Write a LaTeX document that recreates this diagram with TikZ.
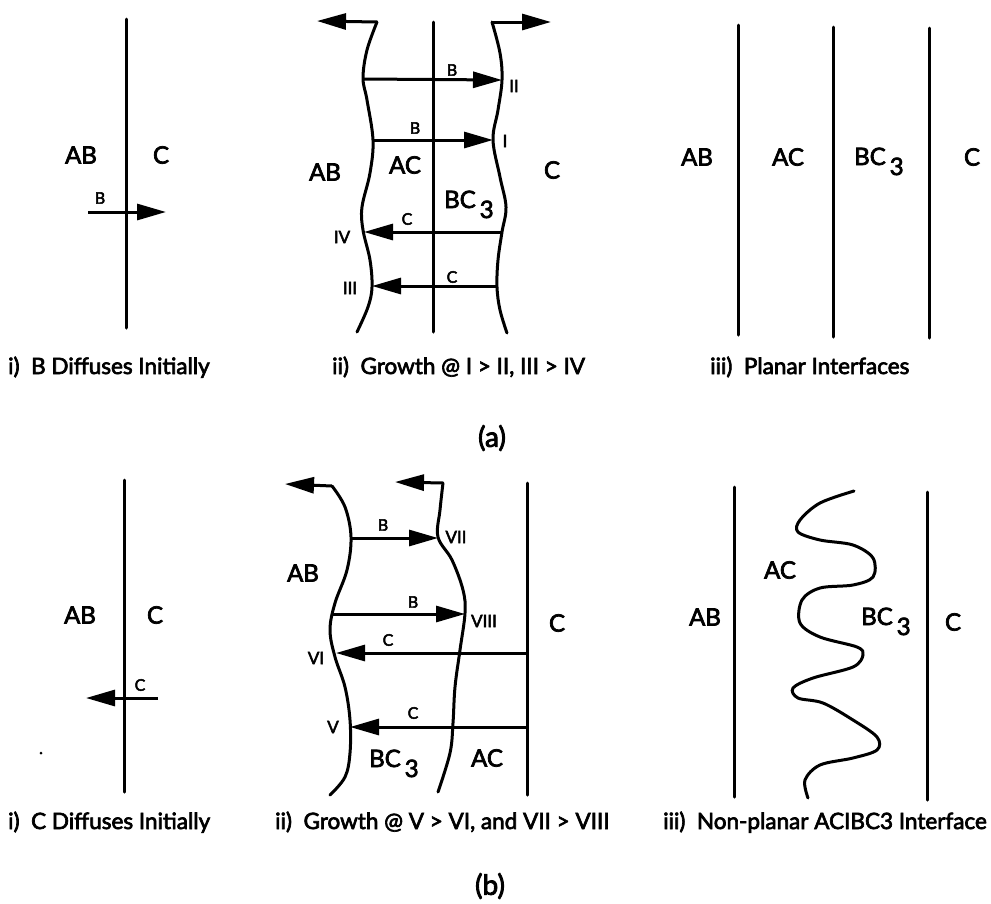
\documentclass[tikz,border=0pt]{standalone}
\usepackage{fontspec}
\setmainfont{Lato}[FakeBold=3]
\usetikzlibrary{arrows.meta}
\begin{document}
\begin{tikzpicture}[x=1pt,y=-1pt,
  bd/.style={line width=3pt, line cap=round},
  arr/.style={line width=3pt, -{Triangle[length=29pt,width=16pt]}},
  big/.style={font=\fontsize{24}{26}\selectfont, inner sep=0pt},
  small/.style={font=\fontsize{16}{18}\selectfont, inner sep=0pt},
  roman/.style={font=\fontsize{17}{19}\selectfont, inner sep=0pt},
  capt/.style={font=\fontsize{22.5}{24}\selectfont, inner sep=0pt, anchor=base west},
  panel/.style={font=\fontsize{28}{30}\selectfont, inner sep=0pt}]
\useasboundingbox (0,0) rectangle (991,903);
\newcommand{\bcthree}{BC\kern4pt\raisebox{-10pt}{3}}

% ---------- (a) i ----------
\coordinate (ai-t) at (126,19);
\coordinate (ai-b) at (126,328);
\draw[bd] (ai-t) -- (ai-b);
\coordinate (ai-s) at (88,212);
\coordinate (ai-e) at (166,212);
\draw[arr] (ai-s) -- (ai-e);
\node[big] (ai-ab) at (81,155) {AB};
\node[big] (ai-c) at (161,155) {C};
\node[small] (ai-bl) at (100,198) {B};
\node[capt] (ai-cap) at (8,374) {i)\ \ B Diffuses Initially};

% ---------- (a) ii ----------
\coordinate (aii-t) at (433,22);
\coordinate (aii-b) at (433,332);
\draw[bd] (aii-t) -- (aii-b);
\draw[bd] plot[smooth,tension=0.6] coordinates {(357,332) (368,307) (372,287) (370,260) (363,230) (362,207) (370,173) (373,140) (367,100) (363,78) (367,50) (377,22)};
\draw[bd] plot[smooth,tension=0.6] coordinates {(507,333) (500,310) (497,287) (498,260) (502,232) (506,207) (500,177) (493,140) (498,110) (502,80) (500,53) (492,22)};
\coordinate (aii-lt) at (377,22);
\coordinate (aii-ltip) at (317,21);
\coordinate (aii-rt) at (492,22);
\coordinate (aii-rtip) at (551,22);
\draw[arr] (aii-lt) -- (aii-ltip);
\draw[arr] (aii-rt) -- (aii-rtip);
\coordinate (aii-b1s) at (363,79);
\coordinate (aii-b1e) at (502,80);
\coordinate (aii-b2s) at (373,140);
\coordinate (aii-b2e) at (493,140);
\coordinate (aii-c1s) at (502,232);
\coordinate (aii-c1e) at (364,232);
\coordinate (aii-c2s) at (497,286);
\coordinate (aii-c2e) at (372,286);
\draw[arr] (aii-b1s) -- (aii-b1e);
\draw[arr] (aii-b2s) -- (aii-b2e);
\draw[arr] (aii-c1s) -- (aii-c1e);
\draw[arr] (aii-c2s) -- (aii-c2e);
\node[small] (aii-bl1) at (452,70) {B};
\node[small] (aii-bl2) at (415,128) {B};
\node[small] (aii-cl1) at (407,219) {C};
\node[small] (aii-cl2) at (452,277) {C};
\node[roman] (aii-II) at (514,86) {II};
\node[roman] (aii-I) at (505,141) {I};
\node[roman] (aii-IV) at (342,237) {IV};
\node[roman] (aii-III) at (350,288) {III};
\node[big] (aii-ab) at (325,172) {AB};
\node[big] (aii-ac) at (405,165) {AC};
\node[big, anchor=base west] (aii-bc) at (444,208) {\bcthree};
\node[big] (aii-c) at (552,170) {C};
\node[capt] (aii-cap) at (332,374) {ii)\ \ Growth @ I > II, III > IV};

% ---------- (a) iii ----------
\coordinate (aiii-1t) at (738,25); \coordinate (aiii-1b) at (738,335);
\coordinate (aiii-2t) at (833,27); \coordinate (aiii-2b) at (833,337);
\coordinate (aiii-3t) at (929,28); \coordinate (aiii-3b) at (929,338);
\draw[bd] (aiii-1t) -- (aiii-1b);
\draw[bd] (aiii-2t) -- (aiii-2b);
\draw[bd] (aiii-3t) -- (aiii-3b);
\node[big] (aiii-ab) at (697,157) {AB};
\node[big] (aiii-ac) at (788,157) {AC};
\node[big, anchor=base west] (aiii-bc) at (854,165) {\bcthree};
\node[big] (aiii-c) at (972,157) {C};
\node[capt] (aiii-cap) at (710,374) {iii)\ \ Planar Interfaces};

\node[panel] (lab-a) at (492,438) {(a)};

% ---------- (b) i ----------
\coordinate (bi-t) at (124,480);
\coordinate (bi-b) at (124,792);
\draw[bd] (bi-t) -- (bi-b);
\coordinate (bi-s) at (158,698);
\coordinate (bi-e) at (86,698);
\draw[arr] (bi-s) -- (bi-e);
\node[big] (bi-ab) at (80,615) {AB};
\node[big] (bi-c) at (155,615) {C};
\node[small] (bi-cl) at (140,685) {C};
\fill (41,753) circle (1.5pt);
\node[capt] (bi-cap) at (8,829) {i)\ \ C Diffuses Initially};

% ---------- (b) ii ----------
\coordinate (bii-t) at (527,483);
\coordinate (bii-b) at (527,795);
\draw[bd] (bii-t) -- (bii-b);
\draw[bd] plot[smooth,tension=0.6] coordinates {(330,795) (345,777) (350,753) (350,720) (345,687) (335,657) (330,630) (335,603) (347,570) (351,537) (345,507) (332,486)};
\draw[bd] plot[smooth,tension=0.6] coordinates {(438,792) (450,753) (453,723) (455,687) (460,650) (465,613) (463,590) (452,560) (438,537) (440,510) (443,483)};
\coordinate (bii-lt) at (332,486);
\coordinate (bii-ltip) at (285,484);
\coordinate (bii-mt) at (443,483);
\coordinate (bii-mtip) at (395,482);
\draw[arr] (bii-lt) -- (bii-ltip);
\draw[arr] (bii-mt) -- (bii-mtip);
\coordinate (bii-b1s) at (351,538);
\coordinate (bii-b1e) at (438,538);
\coordinate (bii-b2s) at (333,614);
\coordinate (bii-b2e) at (465,614);
\coordinate (bii-c1s) at (527,653);
\coordinate (bii-c1e) at (336,653);
\coordinate (bii-c2s) at (527,727);
\coordinate (bii-c2e) at (350,727);
\draw[arr] (bii-b1s) -- (bii-b1e);
\draw[arr] (bii-b2s) -- (bii-b2e);
\draw[arr] (bii-c1s) -- (bii-c1e);
\draw[arr] (bii-c2s) -- (bii-c2e);
\node[small] (bii-bl1) at (383,525) {B};
\node[small] (bii-bl2) at (413,602) {B};
\node[small] (bii-cl1) at (388,640) {C};
\node[small] (bii-cl2) at (413,713) {C};
\node[roman] (bii-VII) at (456,537) {VII};
\node[roman] (bii-VIII) at (484,621) {VIII};
\node[roman] (bii-VI) at (316,658) {VI};
\node[roman] (bii-V) at (333,727) {V};
\node[big] (bii-ab) at (303,573) {AB};
\node[big] (bii-c) at (557,623) {C};
\node[big, anchor=base west] (bii-bc) at (369,767) {\bcthree};
\node[big] (bii-ac) at (487,758) {AC};
\node[capt] (bii-cap) at (275,829) {ii)\ \ Growth @ V > VI, and VII > VIII};

% ---------- (b) iii ----------
\coordinate (biii-1t) at (734,487); \coordinate (biii-1b) at (734,797);
\coordinate (biii-2t) at (927,492); \coordinate (biii-2b) at (927,800);
\draw[bd] (biii-1t) -- (biii-1b);
\draw[bd] (biii-2t) -- (biii-2b);
\draw[bd] plot[smooth,tension=0.55] coordinates {(854,491) (820,503) (800,520) (798,532) (820,540) (853,545) (873,558) (873,577) (853,585) (820,588) (802,600) (800,623) (820,637) (857,647) (863,655) (853,667) (813,678) (793,688) (798,698) (823,703) (853,720) (877,737) (877,750) (853,758) (820,765) (805,780) (808,798)};
\node[big] (biii-ab) at (705,617) {AB};
\node[big] (biii-ac) at (780,570) {AC};
\node[big, anchor=base west] (biii-bc) at (861,625) {\bcthree};
\node[big] (biii-c) at (953,622) {C};
\node[capt, anchor=base east] (biii-cap) at (987,829) {iii)\ \ Non-planar ACIBC3 Interface};

\node[panel] (lab-b) at (490,886) {(b)};
\end{tikzpicture}
\end{document}
